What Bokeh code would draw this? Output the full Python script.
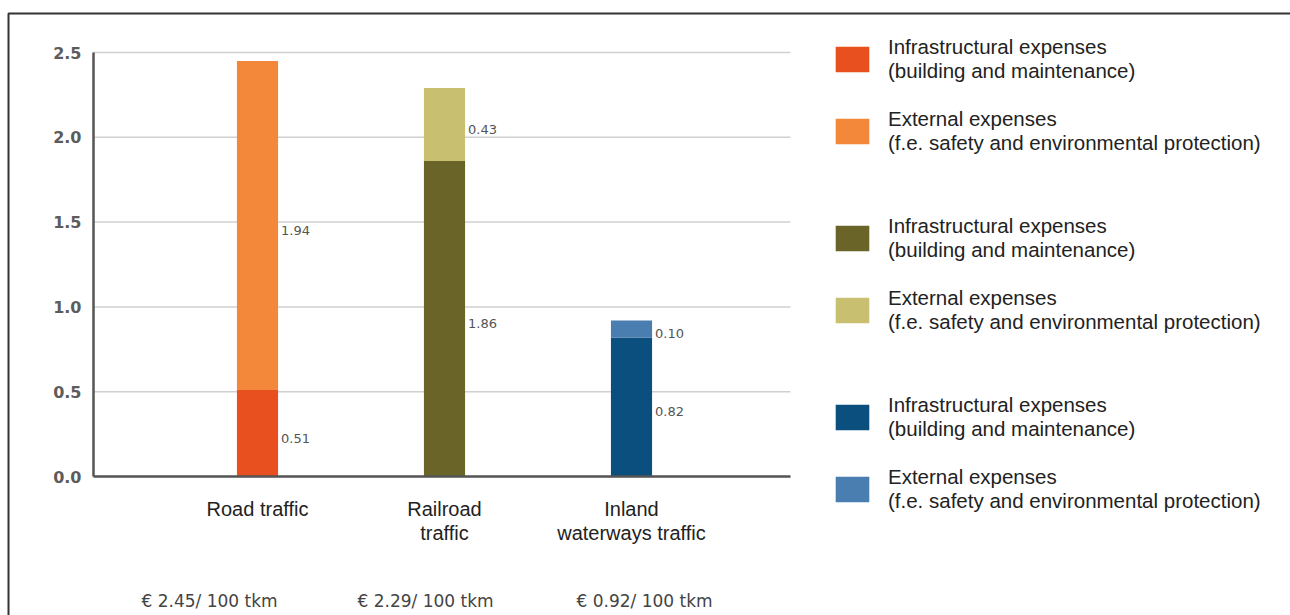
from bokeh.plotting import figure
from bokeh.models import (Range1d, FixedTicker, NumeralTickFormatter, Legend, LegendItem,
                          Label, BoxAnnotation, ColumnDataSource)
from bokeh.embed import file_html
from bokeh.resources import INLINE
from bokeh.core.properties import value

# --- data -------------------------------------------------------------------
categories = ["Road traffic", "Railroad\ntraffic", "Inland\nwaterways traffic"]
infrastructure = [0.51, 1.86, 0.82]
external = [1.94, 0.43, 0.10]
cost_labels = ["€ 2.45/ 100 tkm", "€ 2.29/ 100 tkm", "€ 0.92/ 100 tkm"]
y_ticks = [0.0, 0.5, 1.0, 1.5, 2.0, 2.5]
legend_infra = "Infrastructural expenses\n(building and maintenance)"
legend_external = "External expenses\n(f.e. safety and environmental protection)"

infra_colors = ["#E8501F", "#6A6428", "#0A4F7E"]
external_colors = ["#F4883A", "#C9BF70", "#4A7DB0"]

# --- layout (canvas pixels) --------------------------------------------------
W, H = 1290, 615
AXIS_L, AXIS_R = 93, 790        # horizontal extent of the chart area
BASE_PX = 476                   # pixel row of value 0
FIRST_BAR_PX = 257              # pixel column of the first bar
PX_PER_X = 187                  # pixels between bar centres
PX_PER_Y = 169.6                # pixels per unit of value
BAR_W = 0.22

def canvas_x(px):
    return (px - FIRST_BAR_PX) / PX_PER_X

def canvas_y(py):
    return (BASE_PX - py) / PX_PER_Y

p = figure(width=W, height=H,
           x_range=Range1d(canvas_x(0), canvas_x(W)),
           y_range=Range1d(canvas_y(H), canvas_y(0)),
           output_backend="svg", toolbar_location=None,
           min_border=0)
p.outline_line_color = None
p.background_fill_color = "white"
p.border_fill_color = "white"
p.xgrid.grid_line_color = None
p.ygrid.grid_line_color = None

# axes pinned inside the canvas
xs = list(range(len(categories)))
x_lo, x_hi = canvas_x(AXIS_L), canvas_x(AXIS_R)
p.xaxis.fixed_location = 0
p.xaxis.bounds = (x_lo, x_hi)
p.xaxis.ticker = FixedTicker(ticks=xs)
p.xaxis.major_label_overrides = {i: c for i, c in zip(xs, categories)}
p.yaxis.fixed_location = x_lo
p.yaxis.bounds = (y_ticks[0], y_ticks[-1])
p.yaxis.ticker = FixedTicker(ticks=y_ticks)
p.yaxis.formatter = NumeralTickFormatter(format="0.0")
for ax in (p.xaxis, p.yaxis):
    ax.axis_line_color = "#555555"
    ax.axis_line_width = 2.5
    ax.major_tick_line_color = None
    ax.minor_tick_line_color = None
p.xaxis.major_label_text_font = "Liberation Sans"
p.xaxis.major_label_text_font_size = "20px"
p.xaxis.major_label_text_color = "#222222"
p.xaxis.major_label_standoff = 15
p.xaxis.major_label_text_line_height = 1.1
p.yaxis.major_label_text_font = "DejaVu Sans"
p.yaxis.major_label_text_font_size = "16px"
p.yaxis.major_label_text_font_style = "bold"
p.yaxis.major_label_text_color = "#5c5c5c"
p.yaxis.major_label_standoff = 6

# horizontal grid lines across the chart area
p.segment(x0=[x_lo] * len(y_ticks), x1=[x_hi] * len(y_ticks), y0=y_ticks, y1=y_ticks,
          line_color="#d0d0d0", line_width=1.5)

# stacked bars
totals = [a + b for a, b in zip(infrastructure, external)]
src = ColumnDataSource(dict(x=xs, infra=infrastructure, total=totals,
                            ic=infra_colors, ec=external_colors))
r_infra = p.vbar(x="x", width=BAR_W, bottom=0, top="infra", source=src,
                 fill_color="ic", line_color=None)
r_ext = p.vbar(x="x", width=BAR_W, bottom="infra", top="total", source=src,
               fill_color="ec", line_color=None)

# segment value labels at each segment's middle
lx, ly, lt = [], [], []
for i, (a, b) in enumerate(zip(infrastructure, external)):
    lx += [i + BAR_W / 2, i + BAR_W / 2]
    ly += [a / 2, a + b / 2]
    lt += [f"{a:.2f}", f"{b:.2f}"]
p.text(x=lx, y=ly, text=lt, x_offset=3, y_offset=5,
       text_font=value("DejaVu Sans"), text_font_size="13px",
       text_color="#555555", text_baseline="middle", text_align="left")

# cost per 100 tkm under each mode
cost_px = [209, 425, 644]
for px, t in zip(cost_px, cost_labels):
    p.add_layout(Label(x=canvas_x(px), y=canvas_y(600), text=t,
                       text_font="DejaVu Sans", text_font_size="17px",
                       text_color="#444444", text_align="center",
                       text_baseline="middle"))

# legends: one block per transport mode
# (area swatches are drawn inset by 10%, so the glyph box is a little larger)
for g in range(len(categories)):
    items = [LegendItem(label=legend_infra, renderers=[r_infra], index=g),
             LegendItem(label=legend_external, renderers=[r_ext], index=g)]
    leg = Legend(items=items, location=(831, H - 155 - g * 179),
                 glyph_width=42, glyph_height=32, label_standoff=15, spacing=24,
                 padding=0, margin=0, border_line_color=None,
                 background_fill_alpha=0,
                 label_text_font="Liberation Sans", label_text_font_size="20.5px",
                 label_text_color="#222222", label_text_line_height=1.3)
    p.add_layout(leg)

# frame around the figure
p.add_layout(BoxAnnotation(left=canvas_x(8), right=canvas_x(W + 50),
                           top=canvas_y(13), bottom=canvas_y(H + 50),
                           fill_alpha=0, line_color="#333333", line_alpha=1,
                           line_width=2))

open("out.html", "w").write(file_html(p, INLINE))
